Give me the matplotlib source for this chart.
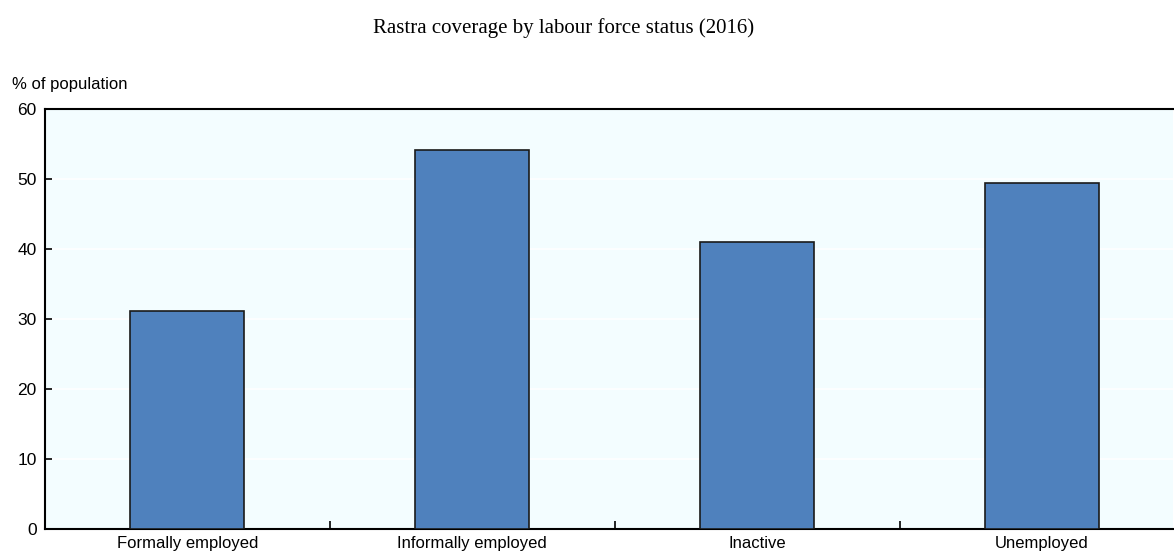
import matplotlib
matplotlib.use("Agg")
import matplotlib.pyplot as plt
import numpy as np

categories = ["Formally employed", "Informally employed", "Inactive", "Unemployed"]
coverage = [31.1, 54.2, 41.0, 49.4]
y_ticks = [0, 10, 20, 30, 40, 50, 60]

plt.rcParams['font.family'] = ['Liberation Sans', 'DejaVu Sans']

fig = plt.figure(figsize=(11.74, 5.56), dpi=100)
ax = fig.add_axes([45 / 1174, 1 - 529 / 556, 1128 / 1174, 420 / 556])
ax.set_facecolor('#f3fdff')

x = np.arange(len(categories))
ax.bar(x, coverage, width=0.4, color='#4f81bd', edgecolor='#1a1a1a', linewidth=1.2, zorder=3)

ax.set_ylim(0, 60)
ax.set_xlim(-0.5, 3.46)
ax.set_yticks(y_ticks)
ax.set_yticklabels([str(v) for v in y_ticks])
ax.yaxis.grid(True, color='white', linewidth=1.2, zorder=0)

# category labels between separators
ax.set_xticks(x)
ax.set_xticklabels(categories)
ax.tick_params(axis='x', length=0, labelsize=12, pad=5)
ax.set_xticks(x[:-1] + 0.5, minor=True)
ax.tick_params(axis='x', which='minor', direction='in', length=6, width=1.2)
ax.tick_params(axis='y', direction='in', length=5, width=1.2, labelsize=12.5, pad=6)

for side in ['left', 'bottom', 'top']:
    ax.spines[side].set_linewidth(1.5)
    ax.spines[side].set_color('black')
ax.spines['right'].set_visible(False)

fig.text(12 / 1174, 1 - 85 / 556, "% of population", fontsize=12, va='center', ha='left')
fig.text(0.5 * (373 + 755) / 1174, 1 - 28 / 556, "Rastra coverage by labour force status (2016)",
         fontsize=15, family=['Liberation Serif', 'DejaVu Serif'], ha='center', va='center')

fig.savefig("out.png", dpi=100)
